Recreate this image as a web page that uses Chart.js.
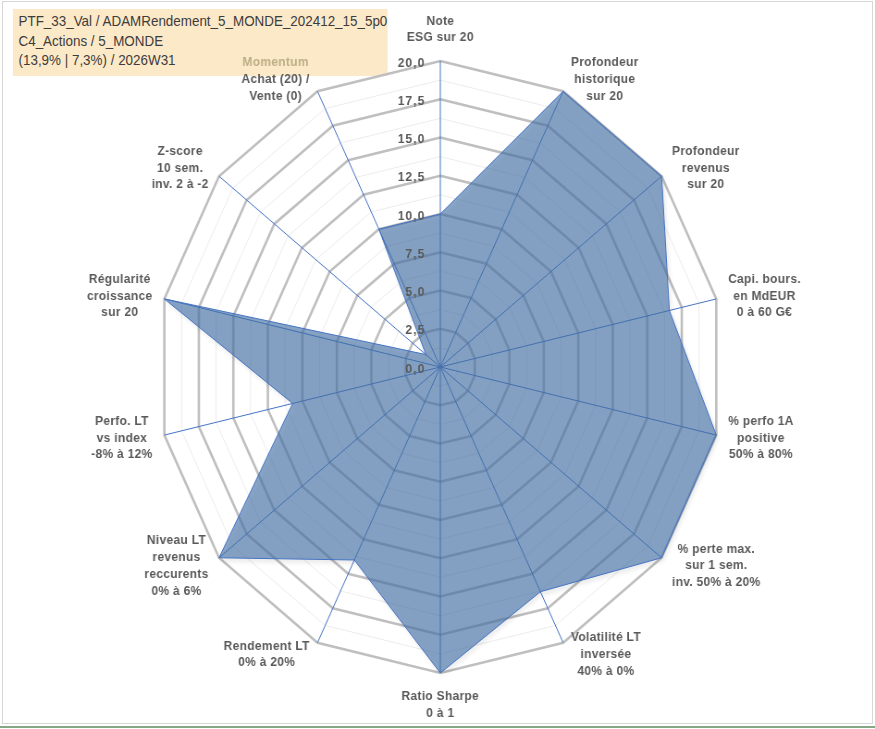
<!DOCTYPE html>
<html>
<head>
<meta charset="utf-8">
<script src="https://cdn.jsdelivr.net/npm/chart.js@4.4.1/dist/chart.umd.min.js"></script>
<style>
  html, body { margin: 0; padding: 0; background: #fff; overflow: hidden; }
  body { width: 875px; height: 729px; position: relative; }
  #frame { position: absolute; left: 2px; top: 1px; width: 869px; height: 721px; border: 1px solid #d6d6d6; }
  #sheetline { position: absolute; left: 0; top: 726px; width: 875px; height: 2px; background: #86a886; }
  /* the reference picture is squeezed horizontally, so the whole chart is too */
  #stretch { position: absolute; left: 0; top: 0; width: 946px; height: 729px; transform: scaleX(0.925); transform-origin: 0 0; }
  #radar { display: block; position: absolute; left: 0; top: 0; }
  #caption {
    position: absolute; left: 14px; top: 9px; width: 405px; height: 67px;
    background: #fce9c8; box-sizing: border-box; padding: 3px 0 0 6px;
    font-family: "Liberation Sans", Arial, sans-serif; font-size: 14.5px; line-height: 19.5px;
    color: #3c3c3c; white-space: nowrap;
  }
</style>
</head>
<body>
<div id="frame"></div>
<div id="sheetline"></div>
<div id="stretch">
  <div id="caption"></div>
  <canvas id="radar" width="946" height="729"></canvas>
</div>
<script>
const captionLines = [
    'PTF_33_Val / ADAMRendement_5_MONDE_202412_15_5p0',
    'C4_Actions / 5_MONDE',
    '(13,9% | 7,3%) / 2026W31'
];

const categories = [
    ['Note', 'ESG sur 20'],
    ['Profondeur', 'historique', 'sur 20'],
    ['Profondeur', 'revenus', 'sur 20'],
    ['Capi. bours.', 'en MdEUR', '0 à 60 G€'],
    ['% perfo 1A', 'positive', '50% à 80%'],
    ['% perte max.', 'sur 1 sem.', 'inv. 50% à 20%'],
    ['Volatilité LT', 'inversée', '40% à 0%'],
    ['Ratio Sharpe', '0 à 1'],
    ['Rendement LT', '0% à 20%'],
    ['Niveau LT', 'revenus', 'reccurents', '0% à 6%'],
    ['Perfo. LT', 'vs index', '-8% à 12%'],
    ['Régularité', 'croissance', 'sur 20'],
    ['Z-score', '10 sem.', 'inv. 2 à -2'],
    ['Momentum', 'Achat (20) /', 'Vente (0)']
];

const scores = [10, 20, 20, 16.6, 20, 20, 16.3, 20, 14, 20, 10.7, 20, 1.3, 10];

const tickValues = [0, 2.5, 5, 7.5, 10, 12.5, 15, 17.5, 20];
const tickLabels = ['0,0', '2,5', '5,0', '7,5', '10,0', '12,5', '15,0', '17,5', '20,0'];

const highlightLine = 'Momentum';

document.getElementById('caption').innerHTML = captionLines.join('<br>');

const FONT = '"Liberation Sans", Arial, sans-serif';

function isMajor(v) {
    return Math.abs(v / 2.5 - Math.round(v / 2.5)) < 1e-6;
}

const radarDecor = {
    id: 'radarDecor',
    beforeDatasetsDraw(chart) {
        const ctx = chart.ctx;
        ctx.save();
        ctx.shadowColor = 'rgba(0,0,0,0.12)';
        ctx.shadowBlur = 5;
        ctx.shadowOffsetX = 2;
        ctx.shadowOffsetY = 3;
    },
    afterDatasetsDraw(chart) {
        const ctx = chart.ctx;
        ctx.restore();
        const r = chart.scales.r;

        // value ticks, left of the vertical spoke
        ctx.save();
        ctx.font = 'bold 13px ' + FONT;
        if ('letterSpacing' in ctx) ctx.letterSpacing = '1.2px';
        ctx.fillStyle = '#595959';
        ctx.textAlign = 'right';
        ctx.textBaseline = 'middle';
        tickValues.forEach((v, i) => {
            const y = r.yCenter - r.getDistanceFromCenterForValue(v);
            ctx.fillText(tickLabels[i], r.xCenter - 16, y + 2);
        });
        ctx.restore();

        // category labels, centred lines
        ctx.save();
        ctx.font = 'bold 13px ' + FONT;
        if ('letterSpacing' in ctx) ctx.letterSpacing = '0.3px';
        ctx.textAlign = 'center';
        ctx.textBaseline = 'middle';
        const lineH = 16.7;
        categories.forEach((lines, i) => {
            const p = r.getPointPosition(i, r.drawingArea + 8);
            const a = r.getIndexAngle(i);
            const s = Math.sin(a), c = Math.cos(a);
            const w = Math.max(...lines.map(t => ctx.measureText(t).width));
            const h = lines.length * lineH;
            let cx = p.x, cy = p.y - 5 * c;
            if (s > 0.1) cx = p.x + 5 + w / 2;
            else if (s < -0.1) cx = p.x - 5 - w / 2;
            if (c > 0.95) cy = p.y - 7 - h / 2;
            else if (c < -0.95) cy = p.y + 7 + h / 2;
            lines.forEach((t, k) => {
                ctx.fillStyle = t === highlightLine ? '#bcae86' : '#595959';
                ctx.fillText(t, cx, cy - h / 2 + lineH * (k + 0.5));
            });
        });
        ctx.restore();
    }
};

new Chart(document.getElementById('radar').getContext('2d'), {
    type: 'radar',
    data: {
        labels: categories,
        datasets: [{
            data: scores,
            fill: true,
            backgroundColor: 'rgba(70,115,170,0.63)',
            borderColor: '#4472c4',
            borderWidth: 1,
            pointRadius: 0,
            pointHoverRadius: 0
        }]
    },
    options: {
        responsive: false,
        animation: false,
        layout: {
            padding: { top: 61, bottom: 56, left: 170, right: 164 }
        },
        plugins: {
            legend: { display: false },
            tooltip: { enabled: false }
        },
        scales: {
            r: {
                min: 0,
                max: 20,
                ticks: { stepSize: 1.25, display: false },
                pointLabels: { display: false },
                grid: {
                    color: ctx => isMajor(ctx.tick.value) ? '#bfbfbf' : '#ececec',
                    lineWidth: ctx => isMajor(ctx.tick.value) ? 2.6 : 1
                },
                angleLines: { color: '#4472c4', lineWidth: 1 }
            }
        }
    },
    plugins: [radarDecor]
});
</script>
</body>
</html>
